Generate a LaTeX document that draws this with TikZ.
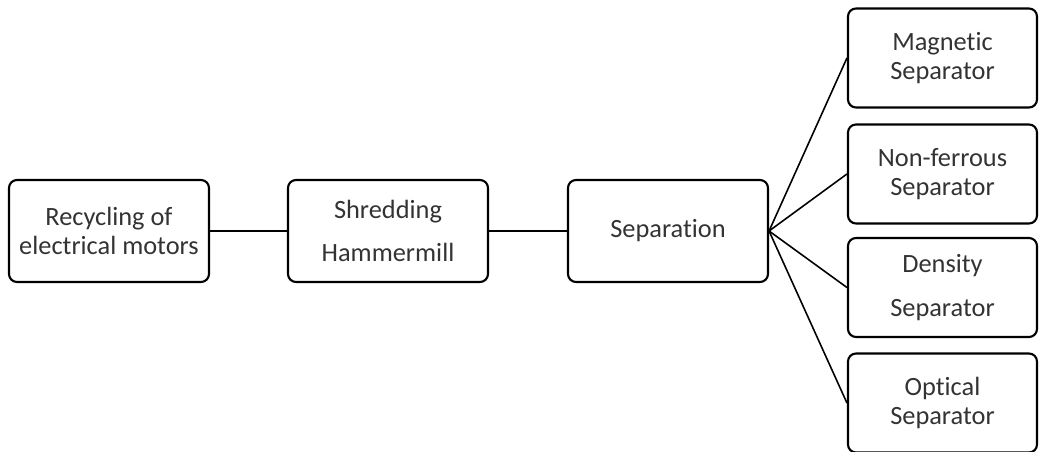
\documentclass[tikz,border=0pt]{standalone}
\usepackage{fontspec}
\setmainfont{Carlito}[Ligatures=NoCommon]
\usetikzlibrary{positioning}
\newcommand\midrow{4.42}
\newcommand\rightcol{18.85}
\tikzset{
    stagebox/.style={draw, rounded corners=0.16cm, line width=1.2pt, minimum width=4cm, minimum height=2.04cm, align=center, text=black!80, font=\fontsize{15}{16.6}\selectfont},
    sepbox/.style={stagebox, minimum width=3.78cm, minimum height=1.98cm},
    link/.style={line width=0.9pt}
}

\begin{document}
\begin{tikzpicture}
         \clip (0,0) rectangle (20.8,9.04);
         % --- Main chain
         \node[stagebox] (recycle) at (2.18,\midrow) {Recycling of\\electrical motors};
         \node[stagebox] (shred) at (7.76,\midrow) {Shredding\\[8pt]Hammermill};
         \node[stagebox] (separation) at (13.36,\midrow) {Separation};
         % --- Separators
         \node[sepbox] (magnetic) at (\rightcol,7.88) {Magnetic\\Separator};
         \node[sepbox] (nonferrous) at (\rightcol,5.56) {Non-ferrous\\Separator};
         \node[sepbox] (density) at (\rightcol,3.29) {Density\\[8pt]Separator};
         \node[sepbox] (optical) at (\rightcol,0.98) {Optical\\Separator};
         % --- Links
         \draw[link] (recycle) -- (shred);
         \draw[link] (shred) -- (separation);
         \foreach \target in {magnetic,nonferrous,density,optical}
             \draw[link] (separation.east) -- (\target.west);
\end{tikzpicture}
\end{document}
